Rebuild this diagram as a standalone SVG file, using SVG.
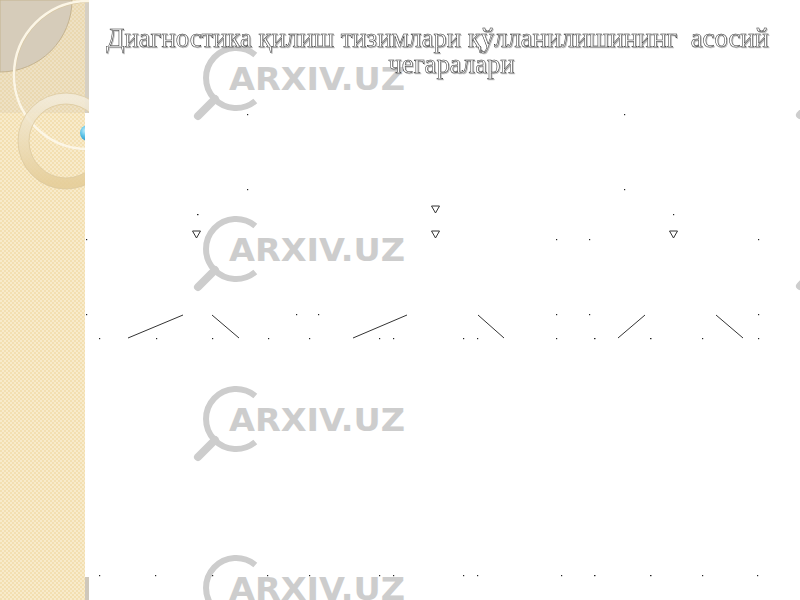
<svg xmlns="http://www.w3.org/2000/svg" width="800" height="600" viewBox="0 0 800 600">
  <defs>
    <pattern id="hatch" width="4" height="4" patternUnits="userSpaceOnUse">
      <rect width="4" height="4" fill="#f3dfb1"/>
      <rect x="0" y="0" width="2" height="2" fill="#f8ebcb"/>
      <rect x="2" y="2" width="2" height="2" fill="#f8ebcb"/>
    </pattern>
    <linearGradient id="ringGrad" x1="0" y1="0" x2="0" y2="1">
      <stop offset="0" stop-color="#f3ecdb"/>
      <stop offset="1" stop-color="#e4cc97"/>
    </linearGradient>
    <radialGradient id="ball" cx="0.35" cy="0.35" r="0.7">
      <stop offset="0" stop-color="#c9f0fb"/>
      <stop offset="0.5" stop-color="#5cc3e8"/>
      <stop offset="1" stop-color="#2a8fbf"/>
    </radialGradient>
    <clipPath id="stripClip">
      <path d="M0,0 H89 V113 H85 V600 H0 Z"/>
    </clipPath>
    <filter id="shadow" x="-5%" y="-20%" width="110%" height="140%">
      <feDropShadow dx="1" dy="1" stdDeviation="0.6" flood-color="#999999" flood-opacity="0.6"/>
    </filter>
    <g id="wm">
      <path d="M255.3,-23 A30,30 0 1 0 255.3,23" fill="none" stroke="#cdcdcd" stroke-width="6"/>
      <line x1="215" y1="21" x2="198" y2="38" stroke="#cdcdcd" stroke-width="8" stroke-linecap="round"/>
      <text x="229" y="12" font-family="DejaVu Sans, sans-serif" font-weight="bold" font-size="32" fill="#cdcdcd" textLength="176" lengthAdjust="spacingAndGlyphs">ARXIV.UZ</text>
    </g>
  </defs>
  <style>
    .title { font-family: "Liberation Serif", "Times New Roman", serif; font-size: 26.7px; fill: #ffffff; stroke: #2a2a2a; stroke-width: 0.5px; white-space: pre; }
    .dot { fill: #222222; }
    .conn { stroke: #333333; stroke-width: 1; fill: none; }
    .arrow { stroke: #333333; stroke-width: 1; fill: #ffffff; }
  </style>

  <rect width="800" height="600" fill="#ffffff"/>

  <g id="left-strip" clip-path="url(#stripClip)">
    <rect x="0" y="0" width="89" height="600" fill="url(#hatch)"/>
    <rect x="0" y="0" width="89" height="113" fill="#cfc4ae" opacity="0.25"/>
    <path d="M0,0 H72 A72,72 0 0 1 0,72 Z" fill="#d6ccba" stroke="#c4b390" stroke-width="1"/>
    <rect x="85" y="0" width="4" height="113" fill="#d6d0c4"/>
    <circle cx="88" cy="75" r="74" fill="none" stroke="#d8c7a2" stroke-width="1" transform="translate(1,1)"/>
    <circle cx="88" cy="75" r="74" fill="none" stroke="#fcf6e6" stroke-width="2.5"/>
    <circle cx="66" cy="141" r="42.5" fill="none" stroke="url(#ringGrad)" stroke-width="11" opacity="0.85"/>
    <circle cx="66" cy="141" r="48" fill="none" stroke="#dcc9a0" stroke-width="0.8"/>
    <circle cx="66" cy="141" r="37" fill="none" stroke="#dcc9a0" stroke-width="0.8"/>
    <circle cx="88" cy="133" r="8" fill="url(#ball)"/>
  </g>
  <rect x="85" y="577" width="4" height="23" fill="#cfc8bb"/>

  <g id="watermarks">
    <use href="#wm" transform="translate(0,78)"/>
    <use href="#wm" transform="translate(0,249)"/>
    <use href="#wm" transform="translate(0,419)"/>
    <use href="#wm" transform="translate(0,588)"/>
    <use href="#wm" transform="translate(602,77)"/>
    <use href="#wm" transform="translate(602,248)"/>
  </g>

  <g id="title" filter="url(#shadow)">
    <text class="title" x="437.5" y="47" text-anchor="middle" xml:space="preserve">Диагностика қилиш тизимлари қўлланилишининг  асосий</text>
    <text class="title" x="451.5" y="73" text-anchor="middle">чегаралари</text>
  </g>

  <g id="dots">
    <rect class="dot" x="247" y="114" width="1.2" height="1.2"/>
    <rect class="dot" x="247" y="189" width="1.2" height="1.2"/>
    <rect class="dot" x="624" y="114" width="1.2" height="1.2"/>
    <rect class="dot" x="624" y="189" width="1.2" height="1.2"/>
    <rect class="dot" x="197" y="214" width="1.5" height="1.2"/>
    <rect class="dot" x="673" y="214" width="1.2" height="1.2"/>
    <rect class="dot" x="86" y="239" width="1.2" height="1.2"/>
    <rect class="dot" x="556" y="239" width="1.2" height="1.2"/>
    <rect class="dot" x="589" y="239" width="1.2" height="1.2"/>
    <rect class="dot" x="758" y="239" width="1.2" height="1.2"/>
    <rect class="dot" x="86" y="314" width="1.2" height="1.2"/>
    <rect class="dot" x="296" y="314" width="1.2" height="1.2"/>
    <rect class="dot" x="318" y="314" width="1.2" height="1.2"/>
    <rect class="dot" x="556" y="314" width="1.2" height="1.2"/>
    <rect class="dot" x="589" y="314" width="1.2" height="1.2"/>
    <rect class="dot" x="758" y="314" width="1.2" height="1.2"/>
    <rect class="dot" x="99" y="338" width="1.2" height="1.2"/>
    <rect class="dot" x="156" y="338" width="1.2" height="1.2"/>
    <rect class="dot" x="212" y="338" width="1.2" height="1.2"/>
    <rect class="dot" x="268" y="338" width="1.2" height="1.2"/>
    <rect class="dot" x="309" y="338" width="1.2" height="1.2"/>
    <rect class="dot" x="379" y="338" width="1.2" height="1.2"/>
    <rect class="dot" x="393" y="338" width="1.2" height="1.2"/>
    <rect class="dot" x="463" y="338" width="1.2" height="1.2"/>
    <rect class="dot" x="477" y="338" width="1.2" height="1.2"/>
    <rect class="dot" x="556" y="338" width="1.2" height="1.2"/>
    <rect class="dot" x="594" y="338" width="1.5" height="1.2"/>
    <rect class="dot" x="650" y="338" width="1.5" height="1.2"/>
    <rect class="dot" x="702" y="338" width="1.2" height="1.2"/>
    <rect class="dot" x="758" y="338" width="1.2" height="1.2"/>
    <rect class="dot" x="99" y="575" width="1.2" height="1.2"/>
    <rect class="dot" x="155" y="575" width="1.2" height="1.2"/>
    <rect class="dot" x="212" y="575" width="1.2" height="1.2"/>
    <rect class="dot" x="267" y="575" width="1.2" height="1.2"/>
    <rect class="dot" x="309" y="575" width="1.2" height="1.2"/>
    <rect class="dot" x="379" y="575" width="1.2" height="1.2"/>
    <rect class="dot" x="393" y="575" width="1.2" height="1.2"/>
    <rect class="dot" x="463" y="575" width="1.2" height="1.2"/>
    <rect class="dot" x="477" y="575" width="1.2" height="1.2"/>
    <rect class="dot" x="561" y="575" width="1.2" height="1.2"/>
    <rect class="dot" x="594" y="575" width="1.5" height="1.2"/>
    <rect class="dot" x="650" y="575" width="1.5" height="1.2"/>
    <rect class="dot" x="702" y="575" width="1.2" height="1.2"/>
    <rect class="dot" x="757" y="575" width="1.2" height="1.2"/>
  </g>

  <g id="connectors">
    <line class="conn" x1="128" y1="338" x2="183" y2="315"/>
    <line class="conn" x1="212" y1="315" x2="239" y2="338"/>
    <line class="conn" x1="353" y1="338" x2="407" y2="315"/>
    <line class="conn" x1="478" y1="315" x2="504" y2="338"/>
    <line class="conn" x1="618" y1="338" x2="645" y2="315"/>
    <line class="conn" x1="716" y1="315" x2="743" y2="338"/>
    <polygon class="arrow" points="192.5,231 200.5,231 196.5,238"/>
    <polygon class="arrow" points="431.5,206 439.5,206 435.5,213"/>
    <polygon class="arrow" points="431.5,231 439.5,231 435.5,238"/>
    <polygon class="arrow" points="669.5,231 677.5,231 673.5,238"/>
  </g>
</svg>
